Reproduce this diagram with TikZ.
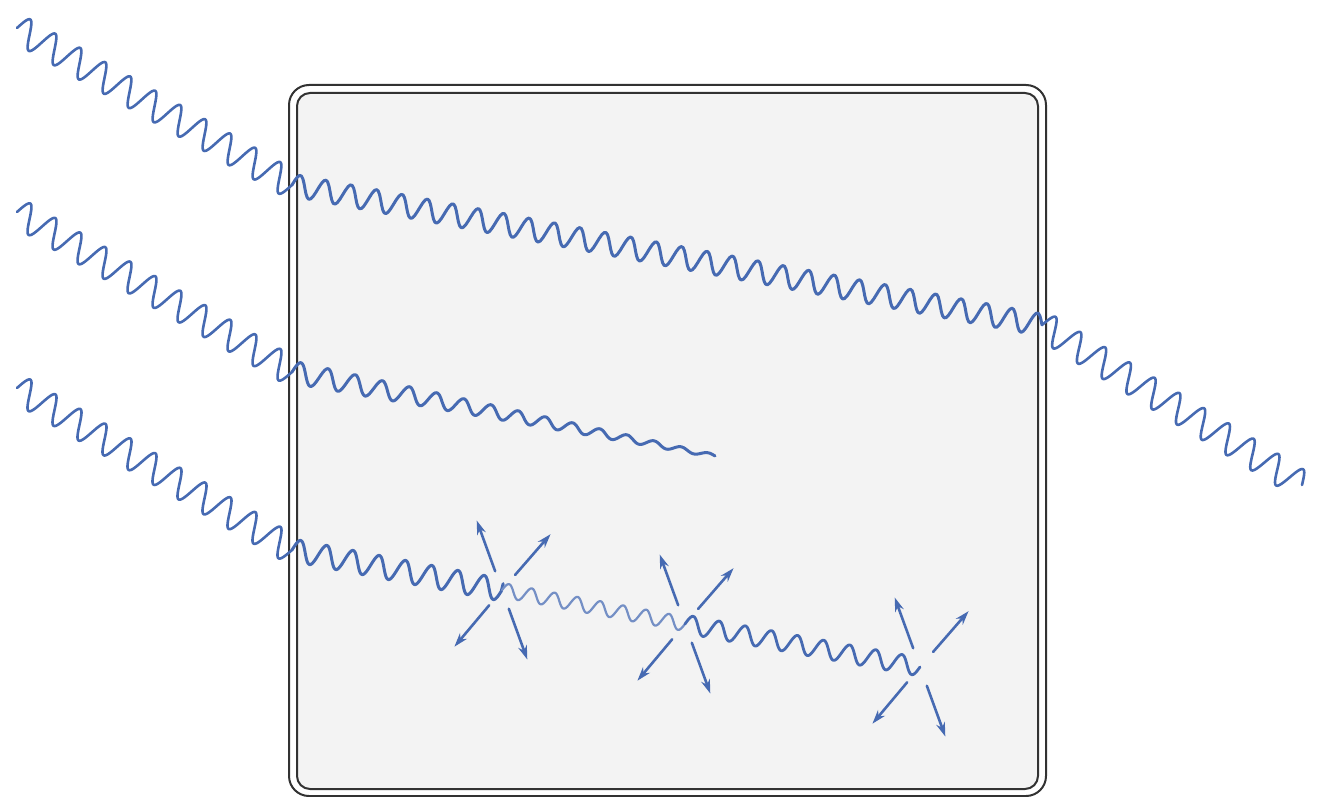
\documentclass[tikz,border=0pt]{standalone}
\usepackage{tikz}
\usetikzlibrary{calc,arrows.meta}
\definecolor{ray}{RGB}{70,106,178}
\definecolor{slab}{RGB}{243,243,243}
\definecolor{rim}{RGB}{50,50,50}
\def\wave[#1](#2)(#3)(#4:#5){\draw[#1] let \p1=($(#3)-(#2)$), \n1={atan2(\y1,\x1)}, \n2={veclen(\x1,\y1)}, \n3={2*\n2/max(1,round(2*\n2/#5))} in [shift={(#2)}, rotate=\n1] plot[domain=0:\n2, samples=400] (\x, {(#4)*sin(\x/\n3*360)});}

\begin{document}
\begin{tikzpicture}[x=1pt, y=-1pt, line cap=round, line join=round]
	%%%%% START %%%%%
	\useasboundingbox (0,0) rectangle (1330,797);
	
	% the slab, double rim
	\draw[rim, line width=2, rounded corners=20] (289,85) rectangle (1046,796);
	\draw[rim, line width=2, fill=slab, rounded corners=13] (297,93) rectangle (1038,789);
	
	\coordinate (a1) at (17,28);
	\coordinate (b1) at (292,185);
	\coordinate (c1) at (1042,325);
	\coordinate (d1) at (1302,485);
	
	\coordinate (a2) at (17,212);
	\coordinate (b2) at (292,372);
	\coordinate (e2) at (715,456);
	
	\coordinate (a3) at (17,388);
	\coordinate (b3) at (292,550);
	\coordinate (s1) at (502,590);
	\coordinate (s2) at (685,624);
	\coordinate (s3) at (920,667);
	
	% top ray goes straight through
	\wave[ray, line width=2.6](a1)(b1)(14:29);
	\wave[ray, line width=3](b1)(c1)(11:26);
	\wave[ray, line width=2.6](c1)(d1)(14:29);
	
	% middle ray is absorbed
	\wave[ray, line width=2.6](a2)(b2)(14:29);
	\wave[ray, line width=3](b2)(e2)({11*(1-0.85*\x/\n2)}:28);
	
	% bottom ray scatters three times
	\wave[ray, line width=2.6](a3)(b3)(14:29);
	\wave[ray, line width=3](b3)(s1)(11:26);
	\wave[ray!75, line width=2.2](s1)(s2)(7:23);
	\wave[ray, line width=2.8](s2)(s3)(9:26);
	
	\foreach \s in {s1,s2,s3}
		\foreach \a in {-110,-49,130,70}
			\draw[ray, line width=2.6, -{Stealth[length=14pt,width=9pt]}] ([shift={(\a:20)}]\s) -- ([shift={(\a:74)}]\s);
	
	%%%%% END %%%%%
\end{tikzpicture}
\end{document}
